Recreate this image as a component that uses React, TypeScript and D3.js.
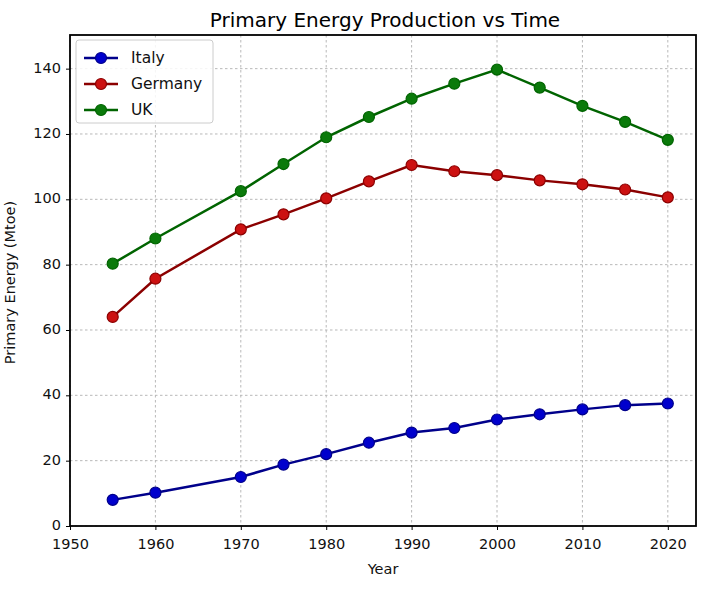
import React, { useEffect, useRef } from 'react';
import * as d3 from 'd3';

const years = [1955, 1960, 1970, 1975, 1980, 1985, 1990, 1995, 2000, 2005, 2010, 2015, 2020];
const italy = [8, 10.2, 15, 18.8, 22, 25.5, 28.6, 30, 32.6, 34.2, 35.7, 37, 37.5];
const germany = [64, 75.7, 90.8, 95.4, 100.3, 105.5, 110.5, 108.6, 107.4, 105.8, 104.6, 103, 100.6];
const uk = [80.3, 88, 102.5, 110.8, 119, 125.2, 130.8, 135.4, 139.7, 134.2, 128.6, 123.7, 118.2];
const xTicks = [1950, 1960, 1970, 1980, 1990, 2000, 2010, 2020];
const yTicks = [0, 20, 40, 60, 80, 100, 120, 140];

const seriesList = [
  { name: 'Italy', values: italy, line: '#00008b', fill: '#0000cd' },
  { name: 'Germany', values: germany, line: '#8b0000', fill: '#cc1111' },
  { name: 'UK', values: uk, line: '#006400', fill: '#0a7a0a' },
];

const W = 709;
const H = 599;
const margin = { top: 35, right: 13, bottom: 73, left: 70 };

const App: React.FC = () => {
  const svgRef = useRef<SVGSVGElement>(null);

  useEffect(() => {
    if (!svgRef.current) return;
    const svg = d3.select(svgRef.current);
    svg.selectAll('*').remove();
    const font = 'DejaVu Sans, sans-serif';

    const iw = W - margin.left - margin.right;
    const ih = H - margin.top - margin.bottom;

    const x = d3.scaleLinear().domain([1950, 2023.3]).range([0, iw]);
    const y = d3.scaleLinear().domain([0, 150.3]).range([ih, 0]);

    svg.append('rect').attr('width', W).attr('height', H).attr('fill', '#fff');

    const g = svg.append('g').attr('transform', `translate(${margin.left},${margin.top})`);

    // grid
    g.selectAll('.gx')
      .data(xTicks)
      .enter()
      .append('line')
      .attr('x1', (d) => x(d))
      .attr('x2', (d) => x(d))
      .attr('y1', 0)
      .attr('y2', ih)
      .attr('stroke', '#b8b8b8')
      .attr('stroke-width', 1)
      .attr('stroke-dasharray', '2.5,2.5');
    g.selectAll('.gy')
      .data(yTicks)
      .enter()
      .append('line')
      .attr('x1', 0)
      .attr('x2', iw)
      .attr('y1', (d) => y(d))
      .attr('y2', (d) => y(d))
      .attr('stroke', '#b8b8b8')
      .attr('stroke-width', 1)
      .attr('stroke-dasharray', '2.5,2.5');

    // lines + markers
    const line = d3
      .line<number>()
      .x((_, i) => x(years[i]))
      .y((d) => y(d));

    seriesList.forEach((s) => {
      g.append('path')
        .attr('d', line(s.values))
        .attr('fill', 'none')
        .attr('stroke', s.line)
        .attr('stroke-width', 2.5);
      g.selectAll(null)
        .data(s.values)
        .enter()
        .append('circle')
        .attr('cx', (_, i) => x(years[i]))
        .attr('cy', (d) => y(d))
        .attr('r', 5.5)
        .attr('fill', s.fill)
        .attr('stroke', s.line)
        .attr('stroke-width', 1.2);
    });

    // frame
    g.append('rect')
      .attr('width', iw)
      .attr('height', ih)
      .attr('fill', 'none')
      .attr('stroke', '#000')
      .attr('stroke-width', 1.8);

    // axes
    const xAxis = g
      .append('g')
      .attr('transform', `translate(0,${ih})`)
      .call(d3.axisBottom(x).tickValues(xTicks).tickFormat(d3.format('d')).tickSize(4).tickPadding(9));
    const yAxis = g
      .append('g')
      .call(d3.axisLeft(y).tickValues(yTicks).tickSize(4).tickPadding(5));
    [xAxis, yAxis].forEach((a) => {
      a.select('.domain').remove();
      a.selectAll('text').attr('font-family', font).attr('font-size', 14.5).attr('fill', '#111');
      a.selectAll('line').attr('stroke', '#000');
    });
    yAxis.selectAll('text').attr('dy', '0.25em');

    // title + labels
    svg.append('text')
      .attr('x', margin.left + iw / 2 + 2)
      .attr('y', 27)
      .attr('text-anchor', 'middle')
      .attr('font-family', font)
      .attr('font-size', 20)
      .attr('fill', '#000')
      .text('Primary Energy Production vs Time');
    svg.append('text')
      .attr('x', margin.left + iw / 2)
      .attr('y', 574)
      .attr('text-anchor', 'middle')
      .attr('font-family', font)
      .attr('font-size', 14.5)
      .attr('fill', '#111')
      .text('Year');
    svg.append('text')
      .attr('transform', `translate(15,${margin.top + ih / 2 + 2}) rotate(-90)`)
      .attr('text-anchor', 'middle')
      .attr('font-family', font)
      .attr('font-size', 14.5)
      .attr('fill', '#111')
      .text('Primary Energy (Mtoe)');

    // legend
    const lg = g.append('g').attr('transform', 'translate(6,5)');
    lg.append('rect')
      .attr('width', 137)
      .attr('height', 83)
      .attr('rx', 3)
      .attr('fill', '#fff')
      .attr('fill-opacity', 0.85)
      .attr('stroke', '#ccc');
    seriesList.forEach((s, i) => {
      const row = lg.append('g').attr('transform', `translate(0,${18 + i * 26})`);
      row.append('line')
        .attr('x1', 8)
        .attr('x2', 42)
        .attr('stroke', s.line)
        .attr('stroke-width', 2.5);
      row.append('circle')
        .attr('cx', 25)
        .attr('r', 5.5)
        .attr('fill', s.fill)
        .attr('stroke', s.line)
        .attr('stroke-width', 1.2);
      row.append('text')
        .attr('x', 55)
        .attr('dy', '0.35em')
        .attr('font-family', font)
        .attr('font-size', 15.5)
        .attr('fill', '#111')
        .text(s.name);
    });
  }, []);

  return (
    <svg
      ref={svgRef}
      width={W}
      height={H}
      style={{ display: 'block', position: 'absolute', left: 0, top: 0 }}
    />
  );
};

export default App;
